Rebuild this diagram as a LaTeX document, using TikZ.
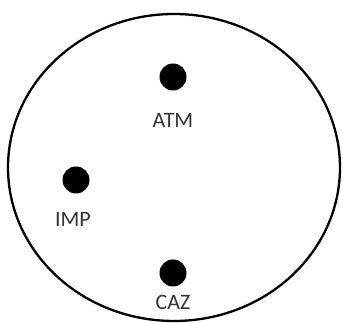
\documentclass[tikz,border=0pt]{standalone}
\usepackage{fontspec}
\setmainfont{Carlito}
\tikzset{
    punto/.style={circle, fill=black, inner sep=0pt, minimum size=27pt},
    etichetta/.style={inner sep=0pt, text=black!80, font=\fontsize{22}{22}\selectfont}
}
\begin{document}
\begin{tikzpicture}[x=1pt, y=1pt]
    \useasboundingbox (0,0) rectangle (343,323);
    %contorno
    \draw[line width=2.3pt] (174,155.5) ellipse [x radius=166, y radius=153.5];
    %punti
    \node[punto] (atm) at (173,246) {};
    \node[punto] (imp) at (76,143) {};
    \node[punto] (caz) at (173,50) {};
    %etichette
    \node[etichetta] (atmlbl) at (173,203) {ATM};
    \node[etichetta] (implbl) at (73,104) {IMP};
    \node[etichetta] (cazlbl) at (173,21) {CAZ};
\end{tikzpicture}
\end{document}
